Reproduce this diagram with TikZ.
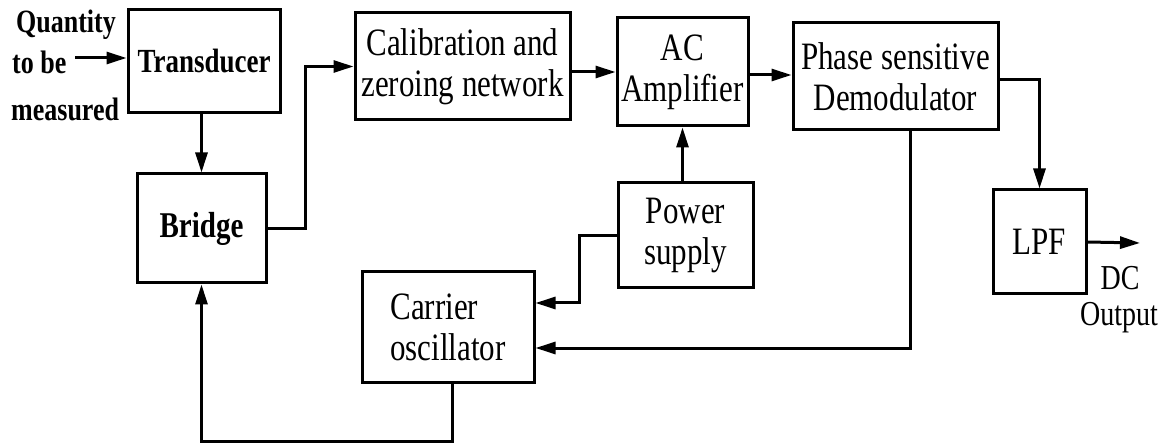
\documentclass[tikz,border=0pt]{standalone}
\usepackage{fontspec}
\setmainfont{Liberation Serif}
\usetikzlibrary{arrows.meta,calc}
\newcommand{\tl}[1]{\scalebox{1}[1.25]{#1}}
\begin{document}
\begin{tikzpicture}[x=1pt,y=1pt,
  box/.style={draw,line width=3pt,inner sep=0pt,align=center,font=\fontsize{31}{41}\selectfont},
  arr/.style={line width=3pt,-{Triangle[length=20pt,width=12pt]}},
  lbl/.style={inner sep=0pt,font=\fontsize{26}{30}\selectfont\bfseries}]
\useasboundingbox (0,0) rectangle (1167,-446);
% boxes
\node[box,minimum width=152,minimum height=103,font=\fontsize{27}{34}\selectfont\bfseries] (trans) at (204,-61.5) {\tl{Transducer}};
\node[box,minimum width=129,minimum height=109,font=\fontsize{29}{36}\selectfont\bfseries] (bridge) at (201.5,-228.5) {\tl{Bridge}};
\node[box,minimum width=215,minimum height=107] (calib) at (462.5,-66.5) {\tl{Calibration and}\\\tl{zeroing network}};
\node[box,minimum width=131,minimum height=108] (acamp) at (682.5,-72) {\tl{AC}\\\tl{Amplifier}};
\node[box,minimum width=205,minimum height=107] (demod) at (895.5,-76.5) {\tl{Phase sensitive}\\\tl{Demodulator}};
\node[box,minimum width=135,minimum height=105] (power) at (685.5,-235.5) {\tl{Power}\\\tl{supply}};
\node[box,minimum width=172,minimum height=110,align=left] (carrier) at (448,-327) {\tl{Carrier}\\\tl{oscillator}};
\node[box,minimum width=93,minimum height=104] (lpf) at (1039.5,-242) {\tl{LPF}};
% input labels
\node[lbl,anchor=west] (q1) at (16,-25) {\tl{Quantity}};
\node[lbl,anchor=west] (q2) at (12,-62) {\tl{to be}};
\node[lbl,anchor=west] (q3) at (11,-109) {\tl{measured}};
\coordinate (inq) at (75,-58);
% output labels
\coordinate (outp) at (1140,-243);
\node[inner sep=0pt,font=\fontsize{28}{32}\selectfont] (dc) at (1120,-278) {\tl{DC}};
\node[inner sep=0pt,font=\fontsize{28}{32}\selectfont] (outl) at (1119,-318) {\tl{Output}};
% connectors
\draw[arr] (inq) -- (inq -| trans.west);
\draw[arr] (bridge.north |- trans.south) -- (bridge.north);
\draw[arr] (bridge.east) -- ++(38,0) |- (calib.west);
\draw[arr] (calib.east |- acamp.west) -- (acamp.west);
\draw[arr] ([yshift=-3pt]acamp.east) -- ([yshift=-3pt]acamp.east -| demod.west);
\draw[arr] ([yshift=-3.5pt]demod.east) -| (lpf.north);
\draw[arr] (lpf.east) -- (outp);
\draw[arr] (acamp.south |- power.north) -- (acamp.south);
\draw[arr] (power.west) -- ++(-37,0) |- ([yshift=24pt]carrier.east);
\draw[arr] ([xshift=14.5pt]demod.south) |- ([yshift=-21pt]carrier.east);
\draw[arr] ([xshift=4pt]carrier.south) -- ++(0,-58) -| (bridge.south);
\end{tikzpicture}
\end{document}
